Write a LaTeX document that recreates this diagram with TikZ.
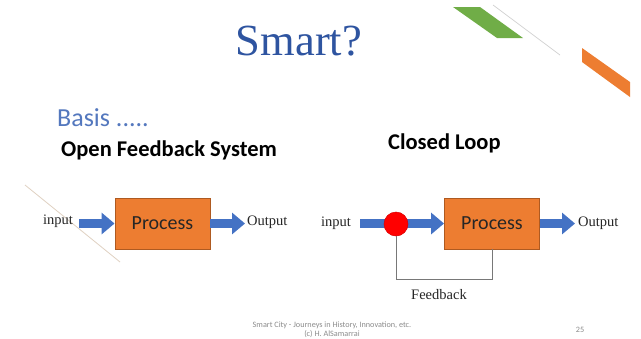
\documentclass[tikz,border=0pt]{standalone}
\usepackage{fontspec}
\setmainfont{Liberation Serif}
\newfontfamily\calibri{Carlito}
\usetikzlibrary{arrows.meta}
\definecolor{titleblue}{RGB}{46,84,160}
\definecolor{basisblue}{RGB}{84,120,190}
\definecolor{arrowblue}{RGB}{68,114,196}
\definecolor{boxorange}{RGB}{237,125,49}
\definecolor{boxedge}{RGB}{174,90,33}
\definecolor{accgreen}{RGB}{112,173,71}
\definecolor{footgray}{RGB}{140,140,140}
\definecolor{loopgray}{RGB}{120,120,120}
\begin{document}
\begin{tikzpicture}[x=1pt,y=-1pt,
  procbox/.style={draw=boxedge,line width=0.9pt,fill=boxorange,minimum width=95pt,minimum height=51pt,inner sep=0pt,
    font=\calibri\fontsize{20}{22}\selectfont,text=black!85},
  sertext/.style={font=\fontsize{14.5}{16}\selectfont,inner sep=0pt,text=black!85},
  blockarrow/.style={draw=arrowblue,line width=9pt,-{Triangle[length=13pt 0 0,width=21pt 0 0]}},
  heading/.style={font=\calibri\bfseries\fontsize{22.5}{24}\selectfont,inner sep=0pt,anchor=base west},
  feedline/.style={draw=loopgray,line width=0.8pt},
  footer/.style={font=\calibri\fontsize{8.2}{9}\selectfont,text=footgray,inner sep=0pt}]
\useasboundingbox[fill=white] (0,0) rectangle (641,338);

% decorative accents
\fill[accgreen] (453,7) -- (480,7) -- (523,38) -- (497,38) -- cycle;
\draw[black!18,line width=0.7pt] (493,5) -- (560,55);
\fill[boxorange] (582,48) -- (630,82) -- (630,97) -- (582,62) -- cycle;
\draw[black!20!brown!30,line width=0.8pt] (25,185) -- (120,262);

% title and headings
\node[font=\fontsize{44.5}{48}\selectfont,text=titleblue,inner sep=0pt,anchor=base] (title) at (299,55) {Smart?};
\node[font=\calibri\fontsize{26}{28}\selectfont,text=basisblue,inner sep=0pt,anchor=base west] (basis) at (57,126) {Basis .....};
\node[heading] (openhead) at (61,156) {Open Feedback System};
\node[heading] (closedhead) at (388,149) {Closed Loop};

% open system
\node[sertext] (in1) at (58,221) {input};
\node[procbox] (p1) at (162.5,223.5) {Process};
\node[sertext,anchor=west] (out1) at (247,222) {Output};
\draw[blockarrow] ([xshift=6pt]in1.east |- p1.west) -- (p1.west);
\draw[blockarrow] (p1.east) -- ([xshift=-2pt]out1.west |- p1.east);

% closed loop
\node[sertext] (in2) at (336,223) {input};
\node[procbox] (p2) at (492,223.5) {Process};
\node[sertext,anchor=west] (out2) at (578,223) {Output};
\draw[blockarrow] ([xshift=9pt]in2.east |- p2.west) -- (p2.west);
\draw[blockarrow] (p2.east) -- ([xshift=-3pt]out2.west |- p2.east);
\node[circle,fill=red,draw=red!85!black,line width=0.5pt,minimum size=24pt,inner sep=0pt] (sum) at (396,224) {};
\draw[feedline] (p2.south) -- ++(0,30) coordinate (fbturn) -| (sum.south);
\node[sertext] (fblabel) at (439,295) {Feedback};

% footer
\node[footer,align=center] (foot) at (332,330) {Smart City - Journeys in History, Innovation, etc.\\(c) H. AlSamarrai};
\node[footer] (pagenum) at (580,330) {25};
\end{tikzpicture}
\end{document}
